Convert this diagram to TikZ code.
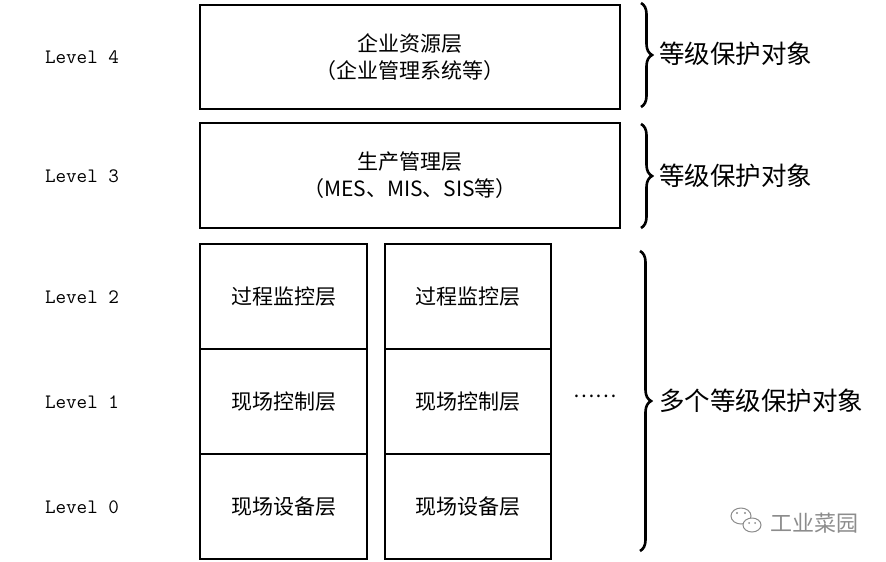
\documentclass[tikz,border=0pt]{standalone}
\usepackage{fontspec}
\newfontfamily\cjk{Noto Sans CJK SC}
\usetikzlibrary{decorations.pathreplacing}
\begin{document}
\begin{tikzpicture}[x=1pt,y=-1pt,
  layerbox/.style={draw=black,line width=1.3pt,rectangle,inner sep=0pt,align=center,
    font=\cjk\fontsize{21}{27}\selectfont},
  cell/.style={layerbox,minimum width=167pt,minimum height=105pt},
  wide/.style={layerbox,minimum width=420pt,minimum height=105pt},
  lvl/.style={font=\ttfamily\fontsize{20.5}{22}\selectfont,inner sep=0pt},
  objlabel/.style={font=\cjk\fontsize{25.5}{28}\selectfont,anchor=west,inner sep=0pt},
  bracedeco/.style={decorate,decoration={brace,amplitude=11pt},line width=2.6pt},
  wm/.style={draw=black!45,line width=1pt}
]
\useasboundingbox (0,0) rectangle (886,562);
% wide boxes
\node[wide,minimum height=104pt] (L4) at (410,57) {企业资源层\\（企业管理系统等）};
\node[wide] (L3) at (410,175.5) {生产管理层\\（MES、MIS、SIS等）};
% cells
\node[cell] (a2) at (283.5,296.5) {过程监控层};
\node[cell] (a1) at (283.5,401.5) {现场控制层};
\node[cell] (a0) at (283.5,506.5) {现场设备层};
\node[cell,minimum width=166pt] (b2) at (468,296.5) {过程监控层};
\node[cell,minimum width=166pt] (b1) at (468,401.5) {现场控制层};
\node[cell,minimum width=166pt] (b0) at (468,506.5) {现场设备层};
\node[font=\cjk\fontsize{20}{20}\selectfont,inner sep=0pt] (dots) at (595,396) {……};
% level labels
\node[lvl] (lv4) at (82,57) {Level 4};
\node[lvl] (lv3) at (82,176) {Level 3};
\node[lvl] (lv2) at (82,297) {Level 2};
\node[lvl] (lv1) at (82,402) {Level 1};
\node[lvl] (lv0) at (82,507) {Level 0};
% braces
\coordinate (t4) at (641,3);
\coordinate (e4) at (641,107);
\coordinate (t3) at (641,124);
\coordinate (e3) at (641,228);
\coordinate (t2) at (640,251);
\coordinate (e2) at (640,551);
\draw[bracedeco] (t4) -- (e4);
\draw[bracedeco] (t3) -- (e3);
\draw[bracedeco] (t2) -- (e2);
\node[objlabel] (o4) at (659,54) {等级保护对象};
\node[objlabel] (o3) at (659,176) {等级保护对象};
\node[objlabel] (o2) at (659,401) {多个等级保护对象};
% watermark
\draw[wm] (741,516) ellipse (10pt and 8pt);
\draw[wm,fill=white] (752,525) ellipse (9pt and 7pt);
\fill[black!45] (737,513) circle (1.2pt) (745,513) circle (1.2pt)
  (749,523) circle (1pt) (755,523) circle (1pt);
\node[font=\cjk\fontsize{22}{22}\selectfont,text=black!45,inner sep=0pt] (wmtext) at (814,523) {工业菜园};
\end{tikzpicture}
\end{document}
